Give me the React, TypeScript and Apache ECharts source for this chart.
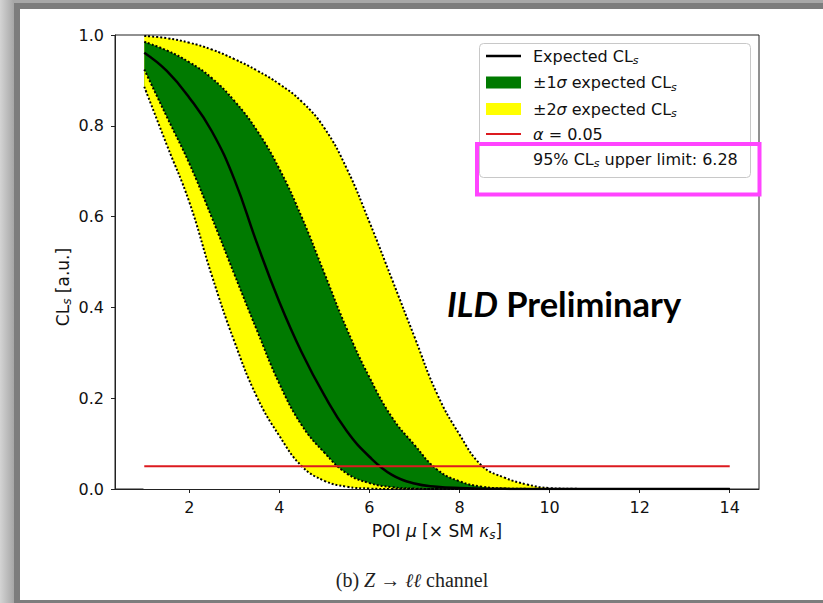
import React, { useEffect, useRef } from "react";
import * as echarts from "echarts";

// POI mu values (x) and CLs curves
const mu = [1, 1.5, 2, 2.5, 3, 3.5, 4, 4.5, 5, 5.5, 6, 6.5, 7, 7.5, 8, 8.5, 9, 9.5, 10, 10.5, 11, 11.5, 12, 12.5, 13, 13.5, 14];
const expectedCLs = [0.961, 0.921, 0.862, 0.788, 0.682, 0.542, 0.412, 0.3, 0.206, 0.127, 0.071, 0.031, 0.012, 0.005, 0.002, 0.0008, 0.0003, 0.0001, 0, 0, 0, 0, 0, 0, 0, 0, 0];
const plus1Sigma = [0.985, 0.966, 0.94, 0.905, 0.855, 0.79, 0.705, 0.598, 0.475, 0.352, 0.246, 0.158, 0.097, 0.043, 0.017, 0.005, 0.0012, 0.0003, 0, 0, 0, 0, 0, 0, 0, 0, 0];
const minus1Sigma = [0.924, 0.82, 0.717, 0.598, 0.473, 0.35, 0.232, 0.14, 0.08, 0.034, 0.013, 0.004, 0.001, 0, 0, 0, 0, 0, 0, 0, 0, 0, 0, 0, 0, 0, 0];
const plus2Sigma = [0.998, 0.993, 0.983, 0.968, 0.947, 0.922, 0.892, 0.853, 0.795, 0.705, 0.588, 0.462, 0.335, 0.21, 0.12, 0.051, 0.025, 0.01, 0.002, 0.0005, 0, 0, 0, 0, 0, 0, 0];
const minus2Sigma = [0.886, 0.758, 0.632, 0.47, 0.325, 0.203, 0.117, 0.05, 0.018, 0.005, 0.001, 0, 0, 0, 0, 0, 0, 0, 0, 0, 0, 0, 0, 0, 0, 0, 0];
const alphaLevel = 0.05;
const alphaRange = [1, 14];
const upperLimit = 6.28;
const xTickValues = [2, 4, 6, 8, 10, 12, 14];

const FONT = "DejaVu Sans";
const TEXT_COLOR = "#111";
const AXIS_COLOR = "#222";
const GREEN = "#007a00";
const YELLOW = "#ffff00";
const RED = "#dc1a1f";

const pairs = (ys: number[]) => mu.map((x, i) => [x, ys[i]]);

const makeRich = (size: number) => ({
  s: { fontSize: Math.round(size * 0.7), fontStyle: "italic", fontFamily: FONT, verticalAlign: "bottom", lineHeight: 10, fill: TEXT_COLOR, color: TEXT_COLOR },
  i: { fontSize: size, fontStyle: "italic", fontFamily: FONT, lineHeight: 20, fill: TEXT_COLOR, color: TEXT_COLOR },
});

function legendText(y: number, text: string) {
  return {
    type: "text",
    x: 533,
    y,
    z: 30,
    style: {
      text,
      fontSize: 16,
      fontFamily: FONT,
      lineHeight: 20,
      fill: TEXT_COLOR,
      align: "left",
      textAlign: "left",
      verticalAlign: "middle",
      textVerticalAlign: "middle",
      rich: makeRich(16),
    },
  };
}

export default function App() {
  const ref = useRef<HTMLDivElement>(null);

  useEffect(() => {
    if (!ref.current) return;
    const chart = echarts.init(ref.current, undefined, { renderer: "svg" });

    const smooth = 0.45;

    const filled = (name: string, ys: number[], color: string) => ({
      name,
      type: "line",
      data: pairs(ys),
      smooth,
      symbol: "none",
      z: 1,
      lineStyle: { opacity: 0, width: 0 },
      areaStyle: { color, opacity: 1, origin: "start" },
    });

    const dotted = (name: string, ys: number[]) => ({
      name,
      type: "line",
      data: pairs(ys),
      smooth,
      symbol: "none",
      z: 4,
      lineStyle: { color: "#000", width: 2, type: [2, 2] },
    });

    const option: any = {
      animation: false,
      backgroundColor: "#ffffff",
      grid: { left: 115, right: 64, top: 35, bottom: 114, show: true, borderColor: AXIS_COLOR, borderWidth: 1, backgroundColor: "transparent" },
      xAxis: {
        type: "value",
        min: 0.35,
        max: 14.65,
        axisLine: { show: true, onZero: false, lineStyle: { color: AXIS_COLOR, width: 1 } },
        axisTick: { show: true, inside: false, length: 4, customValues: xTickValues, lineStyle: { color: AXIS_COLOR } },
        axisLabel: { customValues: xTickValues, margin: 10, fontSize: 16, fontFamily: FONT, color: TEXT_COLOR },
        splitLine: { show: false },
      },
      yAxis: {
        type: "value",
        min: 0,
        max: 1,
        interval: 0.2,
        axisLine: { show: true, lineStyle: { color: AXIS_COLOR, width: 1 } },
        axisTick: { show: true, inside: false, length: 4, lineStyle: { color: AXIS_COLOR } },
        axisLabel: { margin: 11, fontSize: 16, fontFamily: FONT, color: TEXT_COLOR, formatter: (v: number) => v.toFixed(1) },
        splitLine: { show: false },
      },
      series: [
        // bands built by layering fills: yellow under +2σ, green under +1σ, yellow under -1σ, white under -2σ
        filled("fillPlus2", plus2Sigma, YELLOW),
        filled("fillPlus1", plus1Sigma, GREEN),
        filled("fillMinus1", minus1Sigma, YELLOW),
        filled("fillMinus2", minus2Sigma, "#ffffff"),
        // hide the anti-aliased seam of the layered fills at the first point
        { name: "seam", type: "line", data: [[mu[0], 0], [mu[0], minus2Sigma[0]]], symbol: "none", z: 2, lineStyle: { color: "#ffffff", width: 1.6 } },
        dotted("plus2", plus2Sigma),
        dotted("minus2", minus2Sigma),
        dotted("plus1", plus1Sigma),
        dotted("minus1", minus1Sigma),
        { name: "Expected", type: "line", data: pairs(expectedCLs), smooth, symbol: "none", z: 5, lineStyle: { color: "#000", width: 2.5 } },
        { name: "alpha", type: "line", data: alphaRange.map((x) => [x, alphaLevel]), symbol: "none", z: 6, lineStyle: { color: RED, width: 2 } },
      ],
      graphic: [
        // screenshot frame
        { type: "rect", shape: { x: 0, y: 0, width: 14, height: 603 }, style: { fill: new echarts.graphic.LinearGradient(0, 0, 1, 0, [{ offset: 0, color: "#d4d4d4" }, { offset: 1, color: "#a6a6a6" }]) }, z: 50 },
        { type: "rect", shape: { x: 14, y: 0, width: 6, height: 603 }, style: { fill: "#7d7d7d" }, z: 50 },
        { type: "rect", shape: { x: 14, y: 0, width: 809, height: 3 }, style: { fill: "#a8a8a8" }, z: 50 },
        { type: "rect", shape: { x: 14, y: 3, width: 809, height: 6 }, style: { fill: "#7d7d7d" }, z: 50 },
        { type: "rect", shape: { x: 14, y: 600, width: 809, height: 3 }, style: { fill: "#7d7d7d" }, z: 50 },
        // axis titles
        {
          type: "text",
          x: 63,
          y: 287,
          rotation: Math.PI / 2,
          z: 30,
          style: { text: "CL{s|s} [a.u.]", fontSize: 17, fontFamily: FONT, lineHeight: 20, fill: TEXT_COLOR, align: "center", textAlign: "center", verticalAlign: "middle", textVerticalAlign: "middle", rich: makeRich(17) },
        },
        {
          type: "text",
          x: 437,
          y: 531,
          z: 30,
          style: { text: "POI {i|μ} [× SM {i|κ}{s|s}]", fontSize: 17, fontFamily: FONT, lineHeight: 20, fill: TEXT_COLOR, align: "center", textAlign: "center", verticalAlign: "middle", textVerticalAlign: "middle", rich: makeRich(17) },
        },
        // caption
        {
          type: "text",
          x: 412,
          y: 580,
          z: 30,
          style: {
            text: "(b) {z|Z} → {l|ℓℓ} channel",
            fontSize: 20,
            fontFamily: "Liberation Serif",
            lineHeight: 24,
            fill: "#222",
            align: "center",
            textAlign: "center",
            verticalAlign: "middle",
            textVerticalAlign: "middle",
            rich: {
              z: { fontSize: 20, fontFamily: "Liberation Serif", fontStyle: "italic", lineHeight: 24, fill: "#222" },
              l: { fontSize: 19, fontFamily: "DejaVu Serif", fontStyle: "italic", lineHeight: 24, fill: "#222" },
            },
          },
        },
        // ILD Preliminary
        {
          type: "text",
          x: 447,
          y: 303,
          z: 30,
          style: {
            text: "{a|ILD} {b|Preliminary}",
            fontSize: 34.5,
            fontFamily: "Lato",
            fontWeight: "bold",
            lineHeight: 40,
            fill: "#000",
            align: "left",
            textAlign: "left",
            verticalAlign: "middle",
            textVerticalAlign: "middle",
            rich: {
              a: { fontSize: 34.5, fontFamily: "Lato", fontWeight: "bold", fontStyle: "italic", lineHeight: 40, fill: "#000" },
              b: { fontSize: 34.5, fontFamily: "Lato", fontWeight: "bold", lineHeight: 40, fill: "#000" },
            },
          },
        },
        // legend box
        { type: "rect", shape: { x: 479.5, y: 43.5, width: 271, height: 134, r: 4 }, style: { fill: "rgba(255,255,255,0.85)", stroke: "#c8c8c8", lineWidth: 1 }, z: 20 },
        { type: "line", shape: { x1: 486, y1: 56, x2: 521, y2: 56 }, style: { stroke: "#000", lineWidth: 2.5 }, z: 30 },
        { type: "rect", shape: { x: 486, y: 76.5, width: 35, height: 12 }, style: { fill: GREEN }, z: 30 },
        { type: "rect", shape: { x: 486, y: 103, width: 35, height: 12 }, style: { fill: YELLOW }, z: 30 },
        { type: "line", shape: { x1: 486, y1: 134, x2: 521, y2: 134 }, style: { stroke: RED, lineWidth: 2 }, z: 30 },
        legendText(56, "Expected CL{s|s}"),
        legendText(82.5, "±1{i|σ} expected CL{s|s}"),
        legendText(109, "±2{i|σ} expected CL{s|s}"),
        legendText(134, "{i|α} = " + alphaLevel.toFixed(2)),
        legendText(159, "95% CL{s|s} upper limit: " + upperLimit.toFixed(2)),
        // highlight box
        { type: "rect", shape: { x: 477, y: 144, width: 282.5, height: 50.5 }, style: { fill: "none", stroke: "#ff44ff", lineWidth: 4 }, z: 40 },
      ],
    };

    chart.setOption(option);
    return () => chart.dispose();
  }, []);

  return <div ref={ref} style={{ position: "absolute", left: 0, top: 0, width: 823, height: 603 }} />;
}
